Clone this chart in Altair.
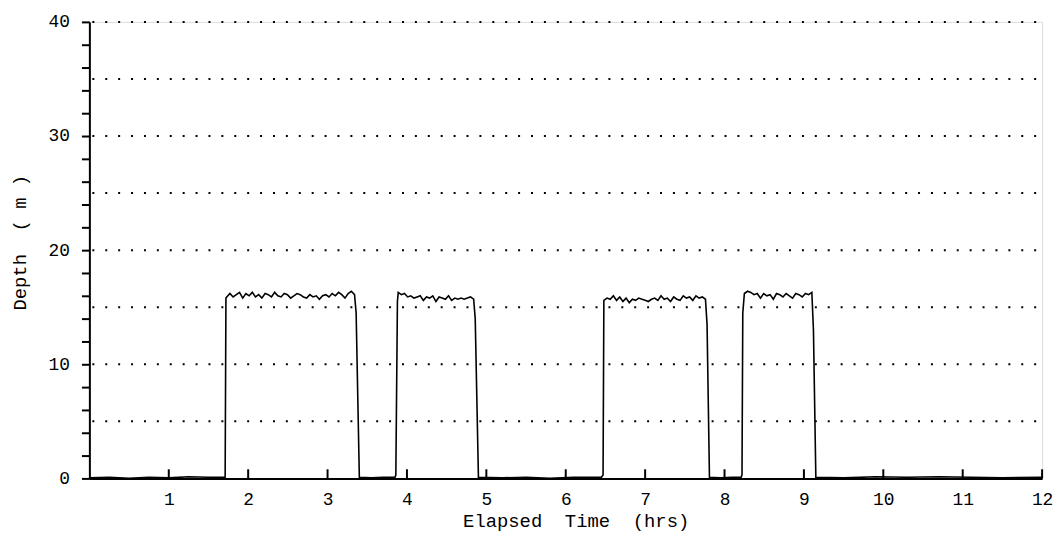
import altair as alt
import numpy as np
import pandas as pd

# ---- data ----
# surface (near-zero) segments: times (hrs) and depths (m)
surf1_t = [0.00, 0.25, 0.50, 0.75, 1.00, 1.25, 1.50, 1.71]
surf1_d = [0.05, 0.10, 0.00, 0.10, 0.05, 0.15, 0.10, 0.10]
surf2_t = [3.40, 3.55, 3.70, 3.85]
surf2_d = [0.10, 0.05, 0.10, 0.10]
surf3_t = [4.90, 5.20, 5.50, 5.80, 6.10, 6.45]
surf3_d = [0.10, 0.05, 0.10, 0.00, 0.10, 0.10]
surf4_t = [7.81, 7.95, 8.10, 8.21]
surf4_d = [0.10, 0.05, 0.10, 0.10]
surf5_t = [9.15, 9.50, 9.90, 10.30, 10.70, 11.10, 11.50, 12.00]
surf5_d = [0.10, 0.05, 0.15, 0.10, 0.15, 0.10, 0.05, 0.10]

# dive bottoms: start / end time of the flat part and depth readings along it
dive1_span = (1.73, 3.34)
dive1_d = [15.9, 16.2, 15.9, 16.1, 16.3, 15.8, 16.2, 16.0, 16.3, 15.9, 16.1, 15.8, 16.2, 16.1,
           15.9, 16.3, 16.0, 15.9, 16.2, 16.1, 15.8, 16.0, 16.2, 16.1, 15.9, 15.8, 16.1, 15.9,
           16.0, 15.7, 16.0, 16.1, 15.9, 16.2, 16.0, 16.3, 16.1, 15.8, 16.2, 16.4, 16.1]
dive2_span = (3.89, 4.84)
dive2_d = [16.3, 16.1, 16.2, 15.9, 16.0, 15.8, 15.9, 16.0, 15.6, 15.9, 15.8, 16.0, 15.5,
           15.9, 15.8, 15.7, 16.0, 15.6, 15.8, 15.7, 15.8, 15.7, 15.8, 15.9, 15.7]
dive3_span = (6.48, 7.76)
dive3_d = [15.6, 15.8, 15.7, 16.0, 15.6, 15.9, 15.5, 15.8, 15.4, 15.7, 15.6, 15.8, 15.7,
           15.6, 15.5, 15.7, 15.8, 15.6, 16.0, 15.7, 15.8, 15.5, 15.9, 15.7, 15.6, 16.0,
           15.8, 15.9, 15.6, 16.0, 15.8, 15.9, 15.7]
dive4_span = (8.25, 9.10)
dive4_d = [16.2, 16.4, 16.3, 16.1, 16.2, 15.8, 16.2, 16.0, 16.1, 15.7, 16.2, 16.1, 15.9,
           16.2, 16.0, 15.8, 16.2, 16.1, 15.9, 16.2, 16.1, 16.3]

# descent / ascent edges (time, depth)
desc1 = [(1.72, 15.8)]
asc1 = [(3.36, 14.5), (3.40, 0.2)]
desc2 = [(3.86, 0.3), (3.88, 15.5)]
asc2 = [(4.86, 14.0), (4.90, 0.2)]
desc3 = [(6.47, 0.3), (6.48, 15.3)]
asc3 = [(7.78, 13.5), (7.81, 0.2)]
desc4 = [(8.22, 0.3), (8.23, 14.5)]
asc4 = [(9.12, 13.0), (9.15, 0.2)]

x_ticks = [1, 2, 3, 4, 5, 6, 7, 8, 9, 10, 11, 12]
y_ticks = list(range(0, 41, 2))
grid_levels = [5, 10, 15, 20, 25, 30, 35, 40]

# ---- assemble the profile ----
def dive(span, vals):
    ts = np.linspace(span[0], span[1], len(vals))
    return list(zip(ts, vals))

pts = []
pts += list(zip(surf1_t, surf1_d)) + desc1 + dive(dive1_span, dive1_d) + asc1
pts += list(zip(surf2_t, surf2_d)) + desc2 + dive(dive2_span, dive2_d) + asc2
pts += list(zip(surf3_t, surf3_d)) + desc3 + dive(dive3_span, dive3_d) + asc3
pts += list(zip(surf4_t, surf4_d)) + desc4 + dive(dive4_span, dive4_d) + asc4
pts += list(zip(surf5_t, surf5_d))
profile = pd.DataFrame(pts, columns=["t", "depth"])
profile["order"] = range(len(profile))

FONT = "Liberation Mono"
xscale = alt.Scale(domain=[0, 12], nice=False, zero=False)
yscale = alt.Scale(domain=[0, 40], nice=False)

xaxis = alt.Axis(
    values=x_ticks, format="d", ticks=False, grid=False, domainColor="black", domainWidth=2,
    labelPadding=12, labelFont=FONT, labelFontSize=18, labelColor="black",
    labelOverlap=False, labelFlush=False,
    title="Elapsed\u00a0\u00a0Time\u00a0\u00a0(hrs)", titleFont=FONT, titleFontSize=19,
    titleFontWeight="normal", titleColor="black", titleX=490, titleY=42,
    titleAlign="center", titleBaseline="middle",
)
yaxis = alt.Axis(
    values=y_ticks, format="d", grid=False, ticks=True, tickSize=8, tickWidth=2,
    tickColor="black", domainColor="black", domainWidth=2, labelPadding=12,
    labelOverlap=False, labelFlush=False,
    labelExpr="datum.value % 10 === 0 ? datum.label : ''",
    labelFont=FONT, labelFontSize=18, labelColor="black",
    title="Depth\u00a0\u00a0(\u00a0m\u00a0)", titleFont=FONT, titleFontSize=19,
    titleFontWeight="normal", titleColor="black", titleX=-70, titleY=222,
    titleAngle=-90, titleAlign="center", titleBaseline="middle",
)

line = alt.Chart(profile).mark_line(color="black", strokeWidth=1.6).encode(
    x=alt.X("t:Q", scale=xscale, axis=xaxis),
    y=alt.Y("depth:Q", scale=yscale, axis=yaxis),
    order="order:Q",
)

grid = alt.Chart(pd.DataFrame({"g": grid_levels})).mark_rule(
    color="black", strokeWidth=2, strokeDash=[2, 11], strokeDashOffset=-3
).encode(
    y=alt.Y("g:Q", scale=yscale, axis=yaxis),
    x=alt.datum(0, scale=xscale, axis=xaxis),
    x2=alt.datum(12),
)

xt = alt.Chart(pd.DataFrame({"xpos": x_ticks, "y0": [0] * 12, "y1": [0.8] * 12})).mark_rule(
    color="black", strokeWidth=2
).encode(
    x=alt.X("xpos:Q", scale=xscale, axis=xaxis),
    y=alt.Y("y0:Q", scale=yscale, axis=yaxis),
    y2="y1:Q",
)

chart = alt.layer(line, grid, xt).properties(
    width=960, height=460,
    autosize=alt.AutoSizeParams(type="none"),
    padding={"left": 82, "top": 12, "right": 13, "bottom": 53},
).configure_view(stroke=None).configure(background="white")

chart.save("out.html", embed_options={"renderer": "svg", "actions": False})
